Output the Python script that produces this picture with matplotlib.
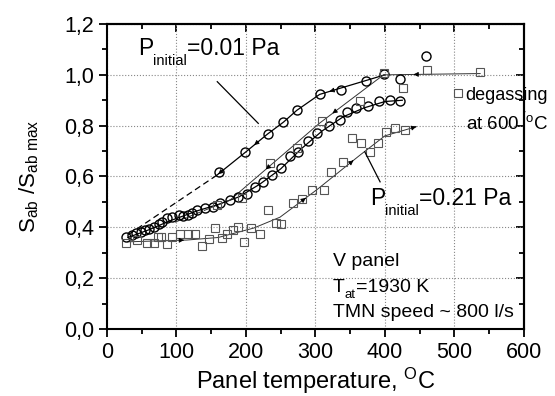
import matplotlib
matplotlib.use("Agg")
import matplotlib.pyplot as plt
from matplotlib.ticker import MultipleLocator, FuncFormatter, NullFormatter

plt.rcParams['font.family'] = ['Liberation Sans', 'DejaVu Sans']
plt.rcParams['mathtext.fontset'] = 'custom'
plt.rcParams['mathtext.rm'] = 'Liberation Sans'
plt.rcParams['mathtext.it'] = 'Liberation Sans:italic'

# P_initial = 0.01 Pa, cooling branch (upper circles)
up_circ_x = [161, 199, 231, 254, 273, 306, 337, 373, 399, 421, 459]
up_circ_y = [0.617, 0.695, 0.767, 0.814, 0.861, 0.923, 0.94, 0.976, 1.004, 0.982, 1.074]

# heating branch (middle circles)
mid_circ_x = [28, 36, 42, 49, 54, 61, 67, 75, 79, 86, 93, 103, 110, 117, 122, 129, 141, 153,
              163, 177, 189, 201, 213, 225, 238, 251, 263, 275, 289, 302, 320, 335, 346, 358,
              375, 392, 407, 422]
mid_circ_y = [0.363, 0.37, 0.376, 0.382, 0.389, 0.395, 0.402, 0.412, 0.421, 0.435, 0.441, 0.448,
              0.446, 0.448, 0.455, 0.467, 0.475, 0.481, 0.494, 0.507, 0.52, 0.533, 0.559, 0.578,
              0.606, 0.635, 0.68, 0.697, 0.74, 0.772, 0.8, 0.822, 0.855, 0.871, 0.879, 0.898,
              0.9, 0.898]

# P_initial = 0.21 Pa, cooling after degassing (middle squares)
mid_sq_x = [158, 194, 235, 273, 310, 364, 398, 426, 460, 505, 537]
mid_sq_y = [0.488, 0.514, 0.652, 0.711, 0.818, 0.897, 1.006, 0.95, 1.019, 0.927, 1.01]

# P_initial = 0.21 Pa, heating (lower squares)
low_sq_x = [28, 43, 57, 67, 74, 78, 86, 94, 105, 117, 127, 136, 147, 155, 165, 173, 182, 189,
            197, 207, 220, 231, 243, 251, 267, 280, 295, 312, 322, 340, 352, 365, 378, 390,
            402, 414, 429]
low_sq_y = [0.337, 0.35, 0.337, 0.337, 0.363, 0.36, 0.333, 0.361, 0.373, 0.373, 0.373, 0.326,
            0.353, 0.399, 0.357, 0.373, 0.389, 0.4, 0.341, 0.396, 0.374, 0.468, 0.416, 0.413,
            0.497, 0.511, 0.547, 0.547, 0.616, 0.658, 0.75, 0.73, 0.695, 0.733, 0.776, 0.79,
            0.783]

# guide lines
up_line_x = [400, 306, 273, 254, 231, 199, 158]
up_line_y = [1.0, 0.923, 0.86, 0.814, 0.767, 0.695, 0.605]
up_dash_x = [158, 30]
up_dash_y = [0.605, 0.37]

mid_line_x = [30, 60, 90, 110, 130, 160, 190, 220, 250, 280, 310, 340, 370, 400, 425]
mid_line_y = [0.36, 0.39, 0.425, 0.445, 0.465, 0.49, 0.52, 0.57, 0.63, 0.71, 0.78, 0.835, 0.87, 0.895, 0.9]

sq_line_x = [398, 306, 177]
sq_line_y = [1.0, 0.81, 0.507]
sq_dash_x = [177, 95]
sq_dash_y = [0.507, 0.417]

flat_x = [537, 400]
flat_y = [1.005, 1.0]

low_line_x = [30, 115, 160, 211, 249, 302, 364, 400, 445]
low_line_y = [0.343, 0.35, 0.36, 0.397, 0.44, 0.548, 0.684, 0.76, 0.796]

x_ticks = [0, 100, 200, 300, 400, 500, 600]
y_ticks = [0.0, 0.2, 0.4, 0.6, 0.8, 1.0, 1.2]


def arrow_on(ax, xs, ys, i, frac=0.5, color='k'):
    # small arrow head on segment i, pointing from point i to i+1
    x0, y0 = xs[i], ys[i]
    x1, y1 = xs[i + 1], ys[i + 1]
    xm = x0 + (x1 - x0) * frac
    ym = y0 + (y1 - y0) * frac
    xa = x0 + (x1 - x0) * (frac - 0.02)
    ya = y0 + (y1 - y0) * (frac - 0.02)
    ax.annotate('', xy=(xm, ym), xytext=(xa, ya),
                arrowprops=dict(arrowstyle='-|>', color=color, lw=0.6,
                                mutation_scale=7, shrinkA=0, shrinkB=0))


def seq_text(ax, x, y, pieces):
    # pieces of text placed one after another: (string, size, vertical offset in px)
    r = ax.figure.canvas.get_renderer()
    dx = 0
    for s, size, dy in pieces:
        t = ax.annotate(s, (x, y), xytext=(dx, dy), textcoords='offset pixels',
                        fontsize=size, ha='left', va='baseline')
        dx += t.get_window_extent(r).width


fig = plt.figure(figsize=(5.55, 3.96), dpi=100)
ax = fig.add_axes([0.1928, 0.1692, 0.944 - 0.1928, 0.9394 - 0.1692])

# lines
ax.plot(up_line_x, up_line_y, color='k', lw=0.9)
ax.plot(up_dash_x, up_dash_y, color='k', lw=0.9, ls=(0, (5, 3)))
ax.plot(mid_line_x, mid_line_y, color='k', lw=0.9)
ax.plot(sq_line_x, sq_line_y, color='#333333', lw=0.7)
ax.plot(sq_dash_x, sq_dash_y, color='#333333', lw=0.7, ls=(0, (5, 3)))
ax.plot(flat_x, flat_y, color='#333333', lw=0.7)
ax.plot(low_line_x, low_line_y, color='#333333', lw=0.7)

arrow_on(ax, up_line_x, up_line_y, 0, 0.85)
arrow_on(ax, up_line_x, up_line_y, 4, 0.6)
arrow_on(ax, up_line_x, up_line_y, 5, 0.95)
arrow_on(ax, sq_line_x, sq_line_y, 0, 0.8)
arrow_on(ax, sq_line_x, sq_line_y, 1, 0.6)
arrow_on(ax, flat_x, flat_y, 0, 0.7)
arrow_on(ax, low_line_x, low_line_y, 0, 0.95)
arrow_on(ax, low_line_x, low_line_y, 4, 0.7)
arrow_on(ax, low_line_x, low_line_y, 5, 0.85)
arrow_on(ax, low_line_x, low_line_y, 7, 1.0)

# markers
ax.plot(up_circ_x, up_circ_y, 'o', ms=6.5, mfc='none', mec='k', mew=1.0)
ax.plot(mid_circ_x, mid_circ_y, 'o', ms=6.5, mfc='none', mec='k', mew=1.0)
ax.plot(mid_sq_x, mid_sq_y, 's', ms=5.5, mfc='none', mec='#555555', mew=0.8)
ax.plot(low_sq_x, low_sq_y, 's', ms=5.5, mfc='none', mec='#555555', mew=0.8)

ax.set_xlim(0, 600)
ax.set_ylim(0, 1.2)
ax.set_xticks(x_ticks)
ax.set_yticks(y_ticks)
ax.xaxis.set_minor_locator(MultipleLocator(50))
ax.yaxis.set_minor_locator(MultipleLocator(0.1))
ax.yaxis.set_major_formatter(FuncFormatter(lambda v, p: f"{v:.1f}".replace('.', ',')))
ax.grid(True, which='major', ls=':', color='#888888', lw=0.8)

for s in ax.spines.values():
    s.set_linewidth(1.5)
ax.tick_params(which='both', direction='out', labelsize=15.5, width=1.3, colors='k')
ax.tick_params(which='major', length=6)
ax.tick_params(which='minor', length=3.5)

# mirrored ticks on top and right, pointing inward
top = ax.secondary_xaxis('top')
top.set_xticks(x_ticks)
top.xaxis.set_minor_locator(MultipleLocator(50))
top.xaxis.set_major_formatter(NullFormatter())
top.tick_params(which='both', direction='in', width=1.3)
top.tick_params(which='major', length=6)
top.tick_params(which='minor', length=3.5)
right = ax.secondary_yaxis('right')
right.set_yticks(y_ticks)
right.yaxis.set_minor_locator(MultipleLocator(0.1))
right.yaxis.set_major_formatter(NullFormatter())
right.tick_params(which='both', direction='in', width=1.3)
right.tick_params(which='major', length=6)
right.tick_params(which='minor', length=3.5)
for sec in (top, right):
    for s in sec.spines.values():
        s.set_linewidth(1.5)

ax.set_xlabel(r"Panel temperature, $^{\mathrm{O}}$C", fontsize=17, labelpad=2)
ax.set_ylabel(r"S$_{\mathrm{ab}}$ /S$_{\mathrm{ab\ max}}$", fontsize=16, labelpad=16)

seq_text(ax, 44.6, 1.078, [("P", 16.5, 0), ("initial", 10.5, -10), ("=0.01 Pa", 16.5, 0)])
ax.plot([158.7, 217.7], [0.973, 0.809], color='k', lw=0.9)
seq_text(ax, 378, 0.488, [("P", 16.5, 0), ("initial", 10.5, -10), ("=0.21 Pa", 16.5, 0)])
ax.plot([371, 393], [0.697, 0.579], color='k', lw=0.9)

ax.text(516, 0.92, "degassing", fontsize=13, ha='left', va='center')
ax.text(516, 0.81, r"at 600 $^{\mathrm{'o}}$C", fontsize=13.5, ha='left', va='center')

ax.text(325, 0.264, "V panel", fontsize=14, ha='left', va='center')
seq_text(ax, 325, 0.145, [("T", 14, 0), ("at", 9.5, -6), ("=1930 K", 14, 0)])
ax.text(325, 0.063, "TMN speed ~ 800 l/s", fontsize=14, ha='left', va='center')

fig.savefig("out.png", dpi=100)
